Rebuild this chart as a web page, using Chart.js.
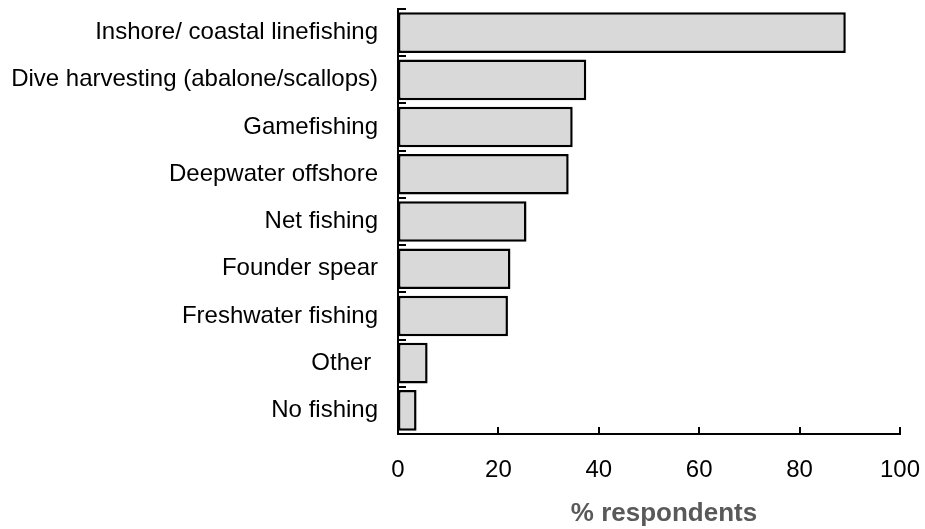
<!DOCTYPE html>
<html>
<head>
<meta charset="utf-8">
<script src="https://cdn.jsdelivr.net/npm/chart.js@4"></script>
<style>
  html, body { margin: 0; padding: 0; background: #fff; }
  #wrap { width: 925px; height: 529px; }
</style>
</head>
<body>
<div id="wrap"><canvas id="chartBar"></canvas></div>
<script>
const categories = [
  "Inshore/ coastal linefishing",
  "Dive harvesting (abalone/scallops)",
  "Gamefishing",
  "Deepwater offshore",
  "Net fishing",
  "Founder spear",
  "Freshwater fishing",
  "Other ",
  "No fishing",
];
const respondents = [89.2, 37.5, 34.8, 34.0, 25.6, 22.4, 21.9, 5.9, 3.7];
const xTicks = [0, 20, 40, 60, 80, 100];
const xTitle = "% respondents";

const fontFamily = "'Liberation Sans', Arial, sans-serif";

// inward tick marks on both axes + x axis title (sits a bit right of centre)
const axisExtras = {
  id: "axisExtras",
  afterDraw(chart) {
    const { ctx, scales: { x, y } } = chart;
    ctx.save();
    ctx.strokeStyle = "#000";
    ctx.lineWidth = 2;
    ctx.beginPath();
    for (let i = 0; i <= categories.length; i++) {
      const py = Math.round(y.getPixelForValue(i - 0.5));
      ctx.moveTo(x.left, py);
      ctx.lineTo(x.left + 8, py);
    }
    xTicks.forEach((v) => {
      if (v === 0) return;
      const px = Math.round(x.getPixelForValue(v));
      ctx.moveTo(px, y.bottom);
      ctx.lineTo(px, y.bottom - 7);
    });
    ctx.stroke();

    ctx.fillStyle = "#595959";
    ctx.font = "bold 26px " + fontFamily;
    ctx.textAlign = "center";
    ctx.textBaseline = "middle";
    ctx.fillText(xTitle, (x.left + x.right) / 2 + 15, x.bottom - 15);
    ctx.restore();
  },
};

const noPad = (s) => {
  s.paddingTop = 0;
  s.paddingBottom = 0;
  s.paddingLeft = 0;
  s.paddingRight = 0;
};

new Chart(document.getElementById("chartBar"), {
  type: "bar",
  data: {
    labels: categories,
    datasets: [
      {
        data: respondents,
        backgroundColor: "#d9d9d9",
        borderColor: "#000",
        borderWidth: 2.5,
        borderSkipped: false,
        categoryPercentage: 1,
        barPercentage: 0.86,
      },
    ],
  },
  options: {
    indexAxis: "y",
    responsive: true,
    maintainAspectRatio: false,
    animation: false,
    layout: {
      padding: { top: 9, right: 25, left: 0, bottom: 0 },
    },
    scales: {
      x: {
        min: 0,
        max: 100,
        afterBuildTicks: (s) => {
          s.ticks = xTicks.map((v) => ({ value: v }));
        },
        afterFit: (s) => {
          s.height = 95;
          noPad(s);
        },
        grid: { display: false, drawTicks: false },
        border: { display: true, color: "#000", width: 2 },
        ticks: {
          color: "#000",
          padding: 22,
          maxRotation: 0,
          font: { size: 24, family: fontFamily },
        },
      },
      y: {
        afterFit: (s) => {
          s.width = 398;
          noPad(s);
        },
        grid: { display: false, drawTicks: false },
        border: { display: true, color: "#000", width: 2 },
        ticks: {
          color: "#000",
          padding: 20,
          font: { size: 24, family: fontFamily },
        },
      },
    },
    plugins: {
      legend: { display: false },
      tooltip: { enabled: false },
    },
  },
  plugins: [axisExtras],
});
</script>
</body>
</html>
